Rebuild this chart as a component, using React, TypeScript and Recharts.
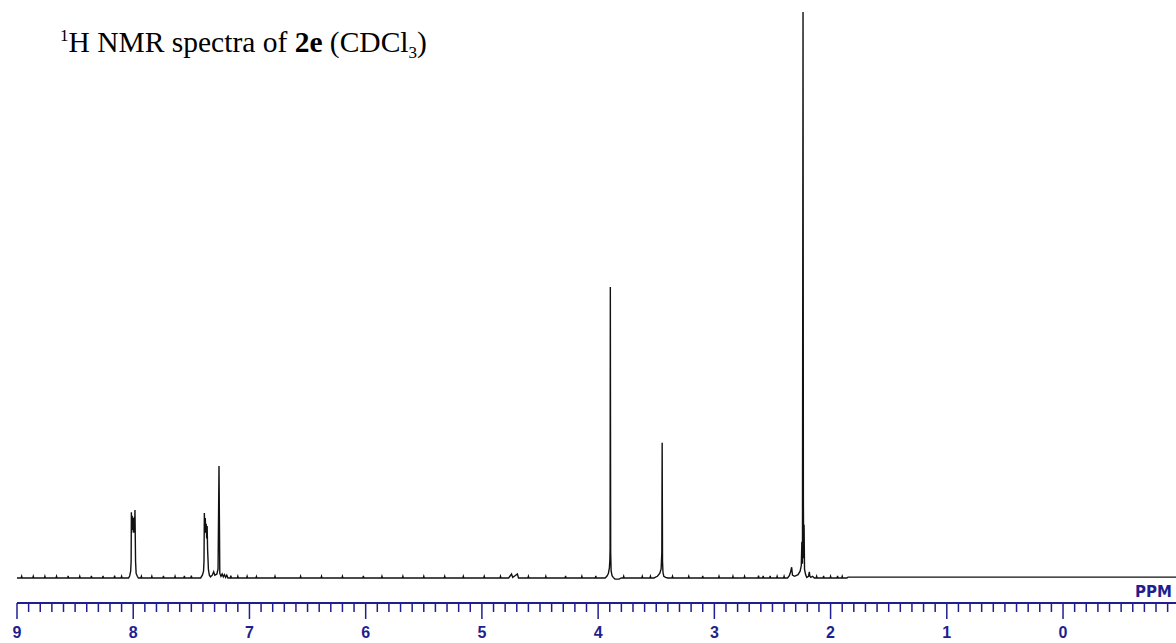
import React from 'react';
import { LineChart, Line, XAxis, YAxis } from 'recharts';

const NAVY = '#1f1f8f';

// Small baseline noise blips: [chemical shift (ppm), height]
const noiseBlips: [number, number][] = [
  [8.96, 0.3], [8.86, 0.3], [8.76, 0.3], [8.66, 0.3], [8.56, 0.35], [8.46, 0.3],
  [8.36, 0.35], [8.26, 0.35], [8.16, 0.4], [8.1, 0.3],
  [7.93, 0.3], [7.84, 0.3], [7.74, 0.35], [7.64, 0.3], [7.56, 0.35], [7.5, 0.4],
  [7.16, 0.4], [7.1, 0.3], [7.02, 0.3], [6.94, 0.25], [6.78, 0.3], [6.56, 0.3],
  [6.38, 0.3], [6.2, 0.3], [6.02, 0.35], [5.86, 0.3], [5.68, 0.3], [5.5, 0.3],
  [5.32, 0.3], [5.16, 0.3], [4.98, 0.3], [4.84, 0.3], [4.6, 0.3], [4.45, 0.3],
  [4.28, 0.35], [4.14, 0.3], [4.02, 0.35],
  [3.78, 0.3], [3.62, 0.3], [3.55, 0.3], [3.36, 0.3], [3.22, 0.3], [3.1, 0.35],
  [2.96, 0.3], [2.84, 0.3], [2.74, 0.3], [2.62, 0.4], [2.58, 0.35], [2.52, 0.35],
  [2.46, 0.3], [2.4, 0.3],
  [2.12, 0.3], [2.06, 0.35], [2.0, 0.3], [1.94, 0.35], [1.9, 0.3],
];

// Resonances and their bases: [chemical shift (ppm), intensity] (tallest line = 100)
const aromaticA: [number, number][] = [
  [8.04, 0], [8.03, 0.4], [8.022, 1.2], [8.018, 3],
  [8.016, 11.6], [8.013, 8], [8.009, 11.0], [8.005, 8.5], [8.0, 10.6], [7.995, 8],
  [7.99, 10.8], [7.987, 9], [7.985, 12.0], [7.98, 3], [7.975, 0.8], [7.965, 0.3],
  [7.955, 0],
];
const aromaticB: [number, number][] = [
  [7.42, 0], [7.405, 0.5], [7.395, 1.2], [7.391, 3],
  [7.388, 11.5], [7.384, 8], [7.38, 10.6], [7.376, 8], [7.372, 9.6], [7.368, 7],
  [7.364, 9.2], [7.36, 5], [7.357, 3.5], [7.353, 1.5], [7.345, 0.5], [7.335, 0.2],
  [7.32, 0.5], [7.308, 1.1], [7.298, 0.5], [7.28, 0.7], [7.27, 1.6],
];
const solventPeak: [number, number][] = [
  [7.262, 19.8], [7.255, 0.8], [7.245, 0.3], [7.235, 0.7], [7.225, 0.2], [7.215, 0.6],
  [7.205, 0.1], [7.195, 0.5], [7.185, 0],
];
const smallSignals: [number, number][] = [
  [4.77, 0], [4.745, 0.7], [4.735, 0.1], [4.715, 0.4], [4.695, 0.7], [4.685, 0],
];
const methoxyPeak: [number, number][] = [
  [3.94, 0], [3.925, 0.3], [3.912, 0.8], [3.903, 1.8], [3.899, 3.2], [3.897, 5.3],
  [3.895, 51.4], [3.892, 4.5], [3.888, 1.2], [3.88, 0.4], [3.87, 0.1], [3.855, -0.2],
  [3.82, -0.2], [3.8, 0],
];
const methylenePeak: [number, number][] = [
  [3.52, 0], [3.49, 0.3], [3.47, 0.8], [3.458, 1.6], [3.452, 4.5],
  [3.449, 23.9], [3.446, 3], [3.442, 1.0], [3.435, 0.3], [3.42, 0.1], [3.4, 0],
];
const methylPeak: [number, number][] = [
  [2.37, 0], [2.355, 0.4], [2.345, 1.0], [2.335, 1.9], [2.328, 0.5], [2.31, 0.3],
  [2.28, 0.6], [2.262, 1.2], [2.252, 2.2], [2.247, 6.4], [2.242, 2.5],
  [2.237, 100], [2.234, 13.6], [2.231, 3.5], [2.228, 9.4], [2.224, 1.5], [2.215, 0.6],
  [2.205, 0.1], [2.19, 0.3], [2.183, 1.1], [2.178, 0.3], [2.17, 0.1], [2.155, 0.3],
  [2.14, 0],
];
const spectrumEnds: [number, number][] = [
  [9.0, 0], [1.86, 0], [1.85, 0.15], [-0.972, 0.15],
];

const blipPoints: [number, number][] = noiseBlips.flatMap(([p, h]) => [
  [p + 0.004, 0], [p, h], [p - 0.004, 0],
] as [number, number][]);

const spectrum = [
  ...spectrumEnds, ...blipPoints, ...aromaticA, ...aromaticB, ...solventPeak,
  ...smallSignals, ...methoxyPeak, ...methylenePeak, ...methylPeak,
]
  .sort((a, b) => b[0] - a[0])
  .map(([ppm, y]) => ({ ppm, y }));

const majorTickLabels = [9, 8, 7, 6, 5, 4, 3, 2, 1, 0];
const xTicks: number[] = [];
for (let i = 0; i <= 99; i++) xTicks.push(Number((9 - i * 0.1).toFixed(1)));

const PpmTick = (props: any) => {
  const { x, y, payload } = props;
  const v = payload.value as number;
  const major = majorTickLabels.some((m) => Math.abs(m - v) < 1e-6);
  return (
    <g>
      <line x1={x} x2={x} y1={y} y2={y + (major ? 16 : 9)} stroke={NAVY} strokeWidth={1.5} />
      {major && (
        <text
          x={x}
          y={y + 35}
          textAnchor="middle"
          fill={NAVY}
          fontFamily="Liberation Sans, Arial, sans-serif"
          fontWeight="bold"
          fontSize={16}
        >
          {Math.round(v)}
        </text>
      )}
    </g>
  );
};

export default function App() {
  return (
    <div style={{ position: 'absolute', left: 0, top: 0, width: 1176, height: 643, background: '#fff' }}>
      <LineChart
        width={1176}
        height={643}
        data={spectrum}
        margin={{ top: 12, right: 0, bottom: 0, left: 17 }}
      >
        <XAxis
          dataKey="ppm"
          type="number"
          domain={[-0.972, 9]}
          reversed
          ticks={xTicks}
          interval={0}
          allowDataOverflow
          height={40}
          tickSize={0}
          tickMargin={0}
          tickLine={false}
          axisLine={{ stroke: NAVY, strokeWidth: 2 }}
          tick={<PpmTick />}
        />
        <YAxis hide type="number" domain={[-4.42, 100]} allowDataOverflow />
        <Line
          type="linear"
          dataKey="y"
          stroke="#111"
          strokeWidth={1.4}
          dot={false}
          isAnimationActive={false}
        />
      </LineChart>
      <div
        style={{
          position: 'absolute',
          left: 1172,
          top: 585,
          transform: 'translateX(-100%)',
          color: NAVY,
          fontFamily: 'DejaVu Sans, sans-serif',
          fontWeight: 'bold',
          fontSize: 15,
          lineHeight: '15px',
          whiteSpace: 'nowrap',
        }}
      >
        PPM
      </div>
      <div
        style={{
          position: 'absolute',
          left: 60,
          top: 28,
          fontFamily: '"Liberation Serif", "Times New Roman", serif',
          fontSize: 29.5,
          lineHeight: '29px',
          color: '#000',
          whiteSpace: 'nowrap',
        }}
      >
        <span style={{ fontSize: 17, position: 'relative', top: -11 }}>1</span>H NMR spectra of{' '}
        <b>2e</b> (CDCl<span style={{ fontSize: 17, position: 'relative', top: 6 }}>3</span>)
      </div>
    </div>
  );
}
